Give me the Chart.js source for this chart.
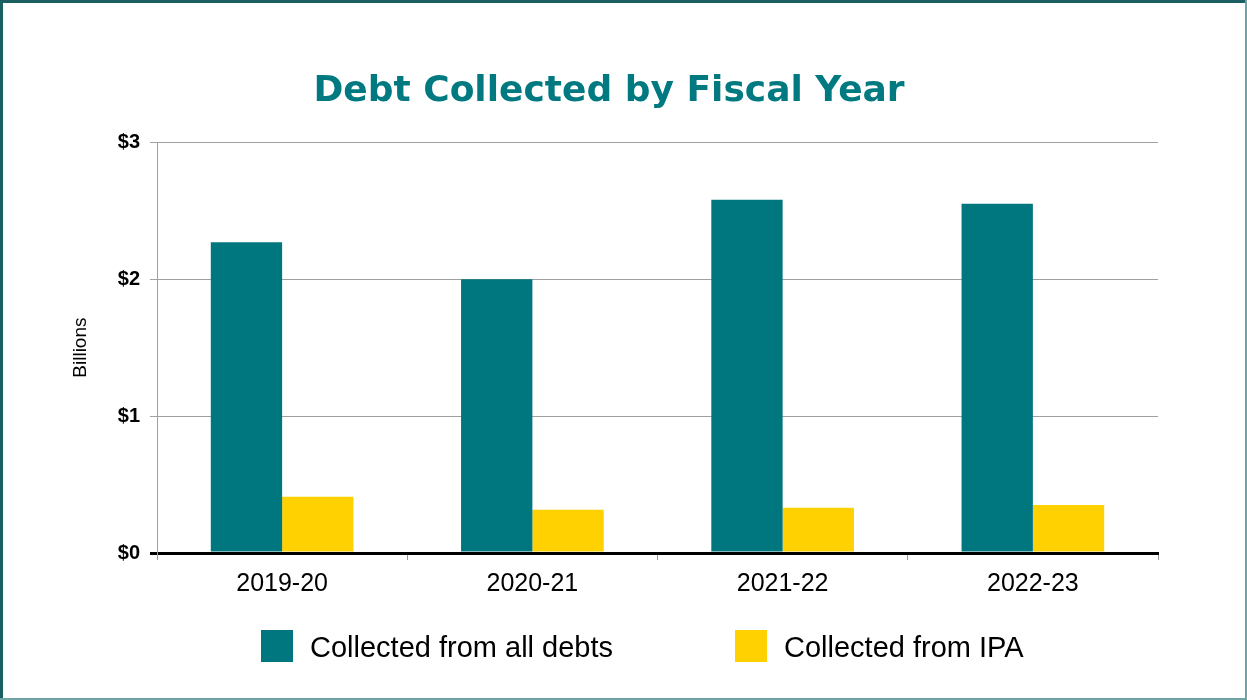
<!DOCTYPE html>
<html>
<head>
<meta charset="utf-8">
<script src="https://cdn.jsdelivr.net/npm/chart.js@4.4.1/dist/chart.umd.min.js"></script>
<style>
  html, body { margin: 0; padding: 0; background: #fff; }
  #wrap { position: relative; width: 1247px; height: 700px; }
  #legend { position: absolute; left: 0; top: 630px; width: 1247px; font-family: "Liberation Sans", Arial, sans-serif; font-size: 29px; color: #000; }
  .item { position: absolute; top: 0; height: 32px; line-height: 32px; white-space: nowrap; }
  .item span.box { position: absolute; left: 0; top: 0; width: 32px; height: 32px; }
  .item span.txt { position: absolute; left: 49px; top: 1px; }
</style>
</head>
<body>
<div id="wrap">
  <canvas id="barChart" width="1247" height="700"></canvas>
  <div id="legend"></div>
</div>
<script>
const years = ['2019-20', '2020-21', '2021-22', '2022-23'];
const allDebts = [2.27, 2.0, 2.58, 2.55];
const fromIPA = [0.41, 0.315, 0.33, 0.35];
const yTicks = ['$0', '$1', '$2', '$3'];

const seriesNames = ['Collected from all debts', 'Collected from IPA'];
const seriesColors = ['#00767E', '#FFD100'];
const legendLeft = [261, 735];

// frame around the slide
const framePlugin = {
    id: 'frame',
    afterDraw(chart) {
        const c = chart.ctx;
        c.save();
        c.fillStyle = '#1B5F63';
        c.fillRect(0, 0, chart.width, 3);
        c.fillRect(0, 0, 3, chart.height);
        c.fillStyle = '#6FA3A6';
        c.fillRect(chart.width - 2, 0, 2, chart.height);
        c.fillRect(0, chart.height - 2, chart.width, 2);
        c.restore();
    }
};

const ctx = document.getElementById('barChart').getContext('2d');
const myChart = new Chart(ctx, {
    type: 'bar',
    plugins: [framePlugin],
    data: {
        labels: years,
        datasets: [
            {
                label: seriesNames[0],
                data: allDebts,
                backgroundColor: seriesColors[0],
                barPercentage: 1,
                categoryPercentage: 0.57
            },
            {
                label: seriesNames[1],
                data: fromIPA,
                backgroundColor: seriesColors[1],
                barPercentage: 1,
                categoryPercentage: 0.57
            }
        ]
    },
    options: {
        responsive: false,
        animation: false,
        layout: {
            padding: { left: 60, right: 89, top: 0, bottom: 92 }
        },
        plugins: {
            legend: { display: false },
            tooltip: { enabled: false },
            title: {
                display: true,
                text: 'Debt Collected by Fiscal Year',
                color: '#007A80',
                font: { family: '"DejaVu Sans", sans-serif', size: 36, weight: 'bold' },
                padding: { top: 70, bottom: 29 }
            }
        },
        scales: {
            x: {
                grid: {
                    offset: true,
                    drawOnChartArea: false,
                    color: '#999',
                    tickLength: 7
                },
                border: { color: '#000', width: 3 },
                ticks: {
                    color: '#000',
                    padding: 9,
                    font: { family: '"Liberation Sans", Arial, sans-serif', size: 25 }
                }
            },
            y: {
                min: 0,
                max: 3,
                afterFit(scale) { scale.width = 97; },
                grid: {
                    color: (c) => c.tick && c.tick.value === 0 ? '#000' : '#A0A0A0',
                    lineWidth: (c) => c.tick && c.tick.value === 0 ? 3 : 1,
                    tickLength: 7
                },
                border: { color: '#A0A0A0', width: 1 },
                ticks: {
                    stepSize: 1,
                    color: '#000',
                    padding: 10,
                    font: { family: '"Liberation Sans", Arial, sans-serif', size: 20, weight: 'bold' },
                    callback: function (value) { return yTicks[value]; }
                },
                title: {
                    display: true,
                    text: 'Billions',
                    color: '#000',
                    padding: { top: 9, bottom: 0 },
                    font: { family: '"Liberation Sans", Arial, sans-serif', size: 19 }
                }
            }
        }
    }
});

// legend below the axis
const legendEl = document.getElementById('legend');
myChart.data.datasets.forEach((ds, i) => {
    const item = document.createElement('div');
    item.className = 'item';
    item.style.left = legendLeft[i] + 'px';
    item.innerHTML = '<span class="box" style="background:' + ds.backgroundColor + '"></span><span class="txt">' + ds.label + '</span>';
    legendEl.appendChild(item);
});
</script>
</body>
</html>
